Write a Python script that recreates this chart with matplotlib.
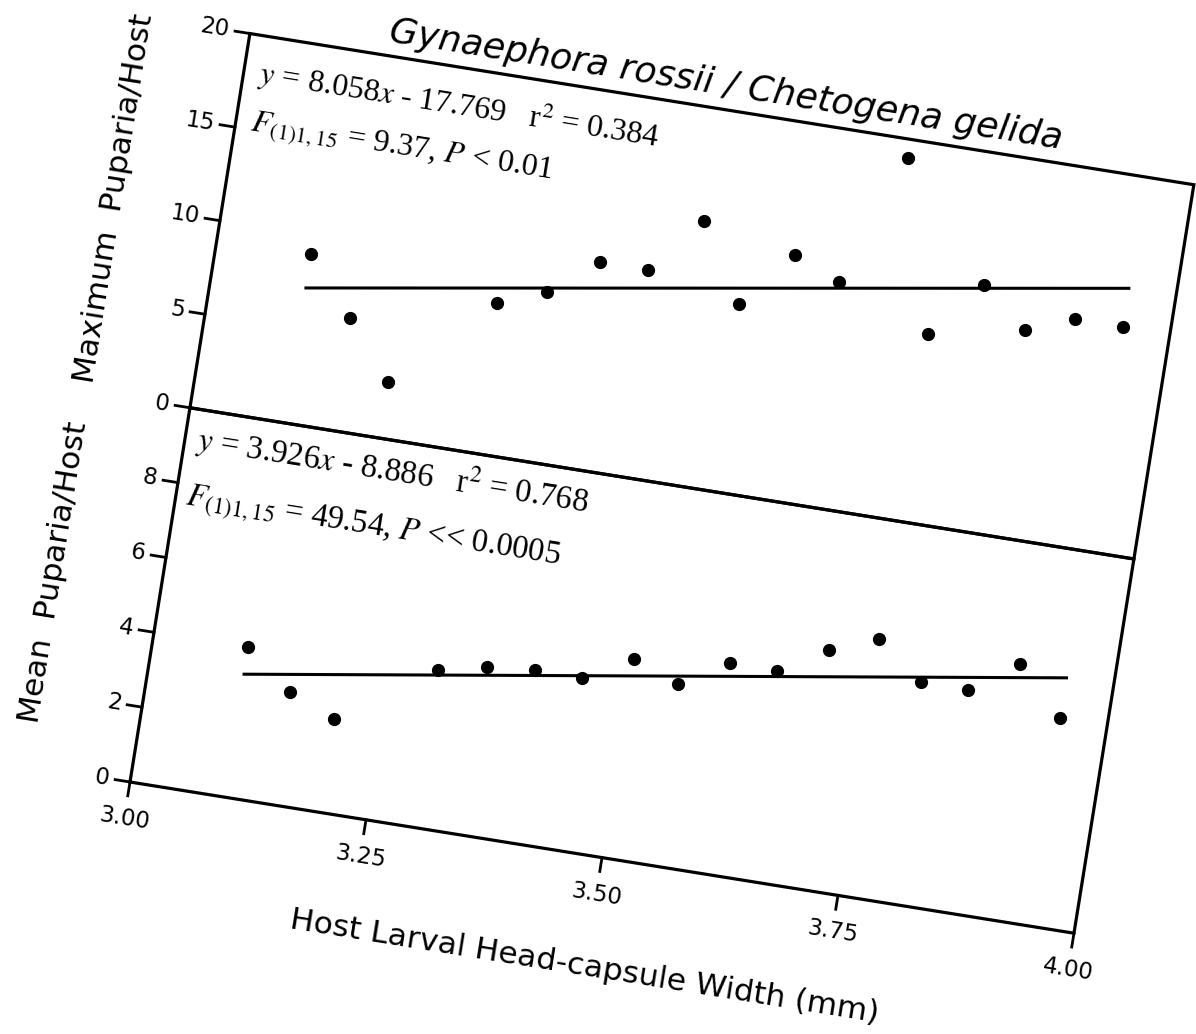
import numpy as np
import matplotlib.pyplot as plt
from matplotlib.transforms import Affine2D, blended_transform_factory

plt.rcParams['mathtext.fontset'] = 'stix'

# host larval head-capsule width (mm), same hosts in both panels
width = [3.10, 3.15, 3.20, 3.30, 3.35, 3.40, 3.45, 3.50, 3.55,
         3.60, 3.65, 3.70, 3.75, 3.80, 3.85, 3.90, 3.95]
max_puparia = [9, 6, 3, 8, 9, 11, 11, 14, 10, 13, 12, 19, 10, 13, 11, 12, 12]
mean_puparia = [4.0, 3.0, 2.5, 4.2, 4.5, 4.6, 4.6, 5.3, 4.85,
                5.6, 5.6, 6.35, 6.85, 5.9, 5.9, 6.8, 5.55]

# regression results printed on the figure (max panel, mean panel)
slopes = [8.058, 3.926]
intercepts = [-17.769, -8.886]
eq_text = [r'$y$ = 8.058$x$ - 17.769   r$^2$ = 0.384',
           r'$y$ = 3.926$x$ - 8.886   r$^2$ = 0.768']
stat_text = [r'$F_{\mathit{(1)1,15}}$ = 9.37, $P$ < 0.01',
             r'$F_{\mathit{(1)1,15}}$ = 49.54, $P$ << 0.0005']

x_ticks = [3.00, 3.25, 3.50, 3.75, 4.00]
x_ticklabels = ['3.00', '3.25', '3.50', '3.75', '4.00']
max_ticks = [0, 5, 10, 15, 20]
mean_ticks = [0, 2, 4, 6, 8]

title = 'Gynaephora rossii / Chetogena gelida'
xlabel = 'Host Larval Head-capsule Width (mm)'
ylabels = ['Maximum  Puparia/Host', 'Mean  Puparia/Host']

W, H = 1196, 1034
fig = plt.figure(figsize=(W / 100, H / 100), dpi=100)

# the scanned figure is tilted: draw an upright layout, then rotate it
x0, y0, pw, ph = 130, 252, 956, 379
ANG = -9.1
rot = Affine2D().rotate_deg_around(x0, y0, ANG)


def tr(t, dx=0, dy=0):
    return t + Affine2D().translate(dx, dy) + rot


ax_mean = fig.add_axes([x0 / W, y0 / H, pw / W, ph / H])
ax_max = fig.add_axes([x0 / W, (y0 + ph) / H, pw / W, ph / H])

panels = [
    (ax_max, max_puparia, 20, max_ticks, [(0.0155, 0.874), (0.016, 0.749)], 23),
    (ax_mean, mean_puparia, 10, mean_ticks, [(0.013, 0.895), (0.011, 0.745)], 23.5),
]

for i, (ax, vals, ytop, yticks, txt_pos, txt_size) in enumerate(panels):
    ax.set_xlim(3, 4)
    ax.set_ylim(0, ytop)
    ax.set_axis_off()

    # frame
    ax.plot([0, 1, 1, 0, 0], [0, 0, 1, 1, 0], transform=tr(ax.transAxes),
            color='k', lw=2.3, clip_on=False, solid_joinstyle='miter')

    # points and fitted line
    ax.plot(width, vals, 'o', ms=8.5, color='k', transform=tr(ax.transData), clip_on=False)
    xs = np.array([min(width), max(width)])
    ax.plot(xs, slopes[i] * xs + intercepts[i], color='k', lw=2.2,
            transform=tr(ax.transData), clip_on=False)

    # y ticks
    yax = blended_transform_factory(ax.transAxes, ax.transData)
    for t in yticks:
        ax.plot([0, -15 / pw], [t, t], color='k', lw=2, transform=tr(yax), clip_on=False)
        ax.text(0, t, str(t), transform=tr(yax, -21, 0), ha='right', va='center',
                rotation=ANG, rotation_mode='anchor', fontsize=16.5)

    ax.text(0, 0.515, ylabels[i], transform=tr(ax.transAxes, -108, 0),
            ha='center', va='center', rotation=90 + ANG, rotation_mode='anchor',
            fontsize=22.5)

    # regression statistics
    for (u, v), s in zip(txt_pos, [eq_text[i], stat_text[i]]):
        ax.text(u, v, s, transform=tr(ax.transAxes), ha='left', va='baseline',
                rotation=ANG, rotation_mode='anchor', family='Liberation Serif',
                fontsize=txt_size)

# x axis only on the bottom panel
xax = blended_transform_factory(ax_mean.transData, ax_mean.transAxes)
for t, lab in zip(x_ticks, x_ticklabels):
    ax_mean.plot([t, t], [0, -14 / ph], color='k', lw=2, transform=tr(xax), clip_on=False)
    ax_mean.text(t, 0, lab, transform=tr(xax, 0, -37), ha='center', va='center',
                 rotation=ANG, rotation_mode='anchor', fontsize=16.5)

ax_mean.text(0.5, 0, xlabel, transform=tr(ax_mean.transAxes, 0, -111),
             ha='center', va='center', rotation=ANG, rotation_mode='anchor', fontsize=22.5)

ax_max.text(0.5, 1, title, transform=tr(ax_max.transAxes, 0, 14), ha='center',
            va='baseline', rotation=ANG, rotation_mode='anchor', fontsize=26,
            style='italic')

fig.savefig('out.png', dpi=100)
